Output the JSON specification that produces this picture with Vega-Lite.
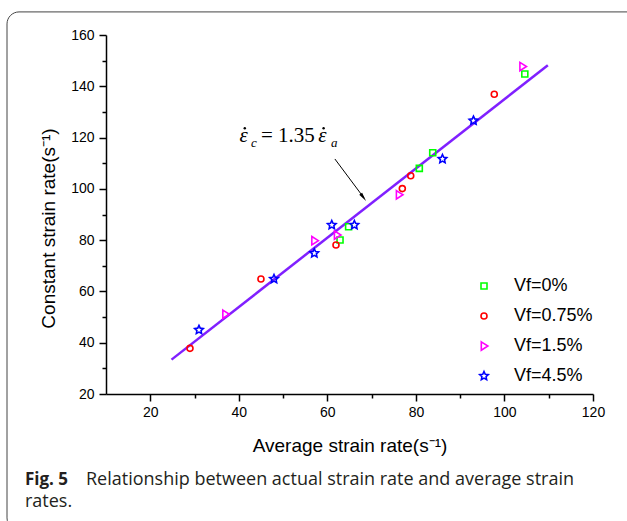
{
  "$schema": "https://vega.github.io/schema/vega-lite/v6.json",
  "width": 487,
  "height": 359,
  "autosize": {"type": "none"},
  "padding": {"left": 106, "top": 35, "right": 34, "bottom": 127},
  "background": "white",
  "config": {"view": {"stroke": null}, "font": "Liberation Sans"},
  "layer": [
    {
      "data": {"values": [{}]},
      "mark": {"type": "rect", "fill": "transparent", "stroke": "#444444", "strokeWidth": 1, "cornerRadius": 12, "clip": false},
      "encoding": {
        "x": {"datum": -12.36, "type": "quantitative", "axis": null, "scale": {"domain": [10, 120], "nice": false, "zero": false}},
        "x2": {"datum": 130.6},
        "y": {"datum": 169.0, "type": "quantitative", "axis": null, "scale": {"domain": [20, 160], "nice": false, "zero": false}},
        "y2": {"datum": -33.0}
      }
    },
    {
      "data": {"values": [{"avg": 24.8, "constant": 33.4}, {"avg": 109.8, "constant": 148.2}]},
      "mark": {"type": "line", "color": "#8020ff", "strokeWidth": 2.5},
      "encoding": {
        "x": {"field": "avg", "type": "quantitative", "axis": {"values": [30, 50, 70, 90, 110], "labels": false, "domain": false, "tickSize": 4, "tickWidth": 1.5, "tickColor": "black", "title": null, "grid": false, "orient": "bottom"}},
        "y": {"field": "constant", "type": "quantitative", "axis": {"values": [30, 50, 70, 90, 110, 130, 150], "labels": false, "domain": false, "tickSize": 4, "tickWidth": 1.5, "tickColor": "black", "title": null, "grid": false, "orient": "left"}}
      }
    },
    {
      "data": {"values": [
        {"series": "0%", "avg": 62.86, "constant": 80.06},
        {"series": "0%", "avg": 64.8, "constant": 85.25},
        {"series": "0%", "avg": 80.77, "constant": 108.0},
        {"series": "0%", "avg": 83.8, "constant": 114.1},
        {"series": "0%", "avg": 104.6, "constant": 144.8},
        {"series": "0.75%", "avg": 28.97, "constant": 37.8},
        {"series": "0.75%", "avg": 45.0, "constant": 64.85},
        {"series": "0.75%", "avg": 61.95, "constant": 78.1},
        {"series": "0.75%", "avg": 76.93, "constant": 100.1},
        {"series": "0.75%", "avg": 78.83, "constant": 105.1},
        {"series": "0.75%", "avg": 97.7, "constant": 136.9},
        {"series": "1.5%", "avg": 37.0, "constant": 51.1},
        {"series": "1.5%", "avg": 57.1, "constant": 79.8},
        {"series": "1.5%", "avg": 62.2, "constant": 82.0},
        {"series": "1.5%", "avg": 76.2, "constant": 97.7},
        {"series": "1.5%", "avg": 104.1, "constant": 147.7},
        {"series": "4.5%", "avg": 31.0, "constant": 45.0},
        {"series": "4.5%", "avg": 47.95, "constant": 64.85},
        {"series": "4.5%", "avg": 57.05, "constant": 74.9},
        {"series": "4.5%", "avg": 61.0, "constant": 85.9},
        {"series": "4.5%", "avg": 66.1, "constant": 85.9},
        {"series": "4.5%", "avg": 86.0, "constant": 111.65},
        {"series": "4.5%", "avg": 93.0, "constant": 126.6}
      ]},
      "mark": {"type": "point", "filled": false, "strokeWidth": 1.6, "opacity": 1, "size": 36},
      "encoding": {
        "x": {"field": "avg", "type": "quantitative", "axis": {"values": [20, 40, 60, 80, 100, 120], "title": "Average strain rate(s⁻¹)", "titleFont": "Liberation Sans", "titleFontSize": 19, "titleFontWeight": "normal", "titleColor": "black", "titleY": 51, "titleBaseline": "middle", "labelFont": "Liberation Sans", "labelFontSize": 14, "labelColor": "black", "labelPadding": 4, "labelFlush": false, "labelOverlap": false, "tickSize": 7, "tickWidth": 1.5, "tickColor": "black", "domainColor": "black", "domainWidth": 1.5, "grid": false, "orient": "bottom"}},
        "y": {"field": "constant", "type": "quantitative", "axis": {"values": [20, 40, 60, 80, 100, 120, 140, 160], "title": "Constant strain rate(s⁻¹)", "titleFont": "Liberation Sans", "titleFontSize": 19, "titleFontWeight": "normal", "titleColor": "black", "titleX": -58, "titleY": 193, "titleBaseline": "middle", "titleAngle": -90, "labelFont": "Liberation Sans", "labelFontSize": 14, "labelColor": "black", "labelPadding": 5, "labelFlush": false, "labelOverlap": false, "tickSize": 7, "tickWidth": 1.5, "tickColor": "black", "domainColor": "black", "domainWidth": 1.5, "grid": false, "orient": "left"}},
        "color": {"field": "series", "type": "nominal", "scale": {"domain": ["0%", "0.75%", "1.5%", "4.5%"], "range": ["#00ff00", "#ff0000", "#ff00ff", "#0000ff"]},
          "legend": {"title": null, "orient": "none", "legendX": 369, "legendY": 242, "labelExpr": "'Vf=' + datum.label", "labelFont": "Liberation Sans", "labelFontSize": 18, "labelColor": "black", "symbolStrokeWidth": 1.6, "symbolSize": 36, "rowPadding": 12, "labelOffset": 21, "padding": 0}},
        "shape": {"field": "series", "type": "nominal", "scale": {"domain": ["0%", "0.75%", "1.5%", "4.5%"], "range": ["square", "circle", "M-0.9,-1.4L1.3,0L-0.9,1.4Z", "M0,-1.5L0.423,-0.582L1.427,-0.464L0.685,0.222L0.882,1.214L0,0.72L-0.882,1.214L-0.685,0.222L-1.427,-0.464L-0.423,-0.582Z"]}}
      }
    },
    {
      "data": {"values": [{}]},
      "mark": {"type": "rule", "color": "black", "strokeWidth": 1, "clip": false},
      "encoding": {
        "x": {"datum": 61.7, "type": "quantitative", "axis": null},
        "y": {"datum": 111.65, "type": "quantitative", "axis": null},
        "x2": {"datum": 68.28},
        "y2": {"datum": 96.44}
      }
    },
    {
      "data": {"values": [{}]},
      "mark": {"type": "point", "filled": true, "color": "black", "size": 36, "angle": 143.6, "shape": "M0,-1.7L0.6,1.3L-0.6,1.3Z", "opacity": 1},
      "encoding": {
        "x": {"datum": 68.05, "type": "quantitative", "axis": null},
        "y": {"datum": 96.87, "type": "quantitative", "axis": null}
      }
    },
    {
      "data": {"values": [{}]},
      "mark": {"type": "text", "text": "ε", "font": "Liberation Serif", "fontStyle": "italic", "fontSize": 21, "align": "center", "baseline": "alphabetic", "color": "black"},
      "encoding": {
        "x": {"datum": 41.1, "type": "quantitative", "axis": null},
        "y": {"datum": 118.4, "type": "quantitative", "axis": null}
      }
    },
    {
      "data": {"values": [{}]},
      "mark": {"type": "point", "shape": "circle", "filled": true, "color": "black", "size": 6, "opacity": 1},
      "encoding": {
        "x": {"datum": 41.35, "type": "quantitative", "axis": null},
        "y": {"datum": 123.6, "type": "quantitative", "axis": null}
      }
    },
    {
      "data": {"values": [{}]},
      "mark": {"type": "text", "text": "c", "font": "Liberation Serif", "fontStyle": "italic", "fontSize": 13, "align": "left", "baseline": "alphabetic", "color": "black"},
      "encoding": {
        "x": {"datum": 42.75, "type": "quantitative", "axis": null},
        "y": {"datum": 116.3, "type": "quantitative", "axis": null}
      }
    },
    {
      "data": {"values": [{}]},
      "mark": {"type": "text", "text": "= 1.35", "font": "Liberation Serif", "fontSize": 21, "align": "left", "baseline": "alphabetic", "color": "black"},
      "encoding": {
        "x": {"datum": 45.0, "type": "quantitative", "axis": null},
        "y": {"datum": 118.4, "type": "quantitative", "axis": null}
      }
    },
    {
      "data": {"values": [{}]},
      "mark": {"type": "text", "text": "ε", "font": "Liberation Serif", "fontStyle": "italic", "fontSize": 21, "align": "center", "baseline": "alphabetic", "color": "black"},
      "encoding": {
        "x": {"datum": 58.9, "type": "quantitative", "axis": null},
        "y": {"datum": 118.4, "type": "quantitative", "axis": null}
      }
    },
    {
      "data": {"values": [{}]},
      "mark": {"type": "point", "shape": "circle", "filled": true, "color": "black", "size": 6, "opacity": 1},
      "encoding": {
        "x": {"datum": 59.15, "type": "quantitative", "axis": null},
        "y": {"datum": 123.6, "type": "quantitative", "axis": null}
      }
    },
    {
      "data": {"values": [{}]},
      "mark": {"type": "text", "text": "a", "font": "Liberation Serif", "fontStyle": "italic", "fontSize": 13, "align": "left", "baseline": "alphabetic", "color": "black"},
      "encoding": {
        "x": {"datum": 60.8, "type": "quantitative", "axis": null},
        "y": {"datum": 116.3, "type": "quantitative", "axis": null}
      }
    },
    {
      "data": {"values": [{}]},
      "mark": {"type": "text", "text": "Fig. 5", "font": "Open Sans", "fontWeight": "bold", "fontSize": 17, "align": "left", "baseline": "alphabetic", "color": "#231f20", "clip": false},
      "encoding": {
        "x": {"datum": -8.3, "type": "quantitative", "axis": null},
        "y": {"datum": -15.3, "type": "quantitative", "axis": null}
      }
    },
    {
      "data": {"values": [{}]},
      "mark": {"type": "text", "text": "Relationship between actual strain rate and average strain", "font": "Open Sans", "fontSize": 18, "align": "left", "baseline": "alphabetic", "color": "#231f20", "clip": false},
      "encoding": {
        "x": {"datum": 5.48, "type": "quantitative", "axis": null},
        "y": {"datum": -15.3, "type": "quantitative", "axis": null}
      }
    },
    {
      "data": {"values": [{}]},
      "mark": {"type": "text", "text": "rates.", "font": "Open Sans", "fontSize": 18, "align": "left", "baseline": "alphabetic", "color": "#231f20", "clip": false},
      "encoding": {
        "x": {"datum": -8.3, "type": "quantitative", "axis": null},
        "y": {"datum": -24.1, "type": "quantitative", "axis": null}
      }
    }
  ],
  "resolve": {"axis": {"x": "independent", "y": "independent"}}
}
